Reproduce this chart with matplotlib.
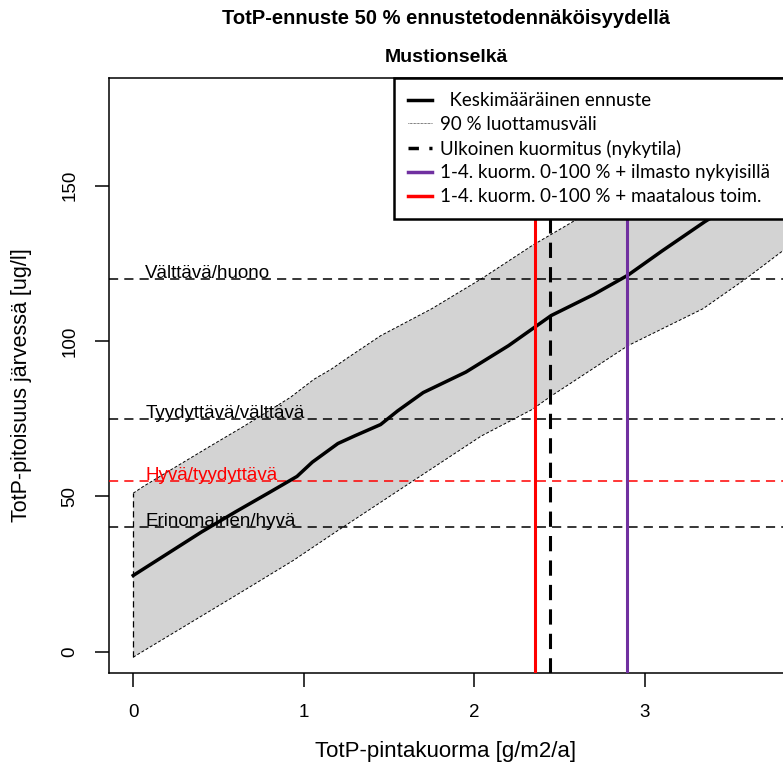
import matplotlib
matplotlib.use("Agg")
from matplotlib import pyplot as plt
from matplotlib.lines import Line2D

# mean forecast
mean_x = [0, 0.2, 0.4, 0.6, 0.8, 0.96, 1.05, 1.2, 1.3, 1.45, 1.55, 1.7, 1.95, 2.2,
          2.45, 2.7, 2.9, 3.1, 3.35, 3.6, 3.85]
mean_y = [24.5, 31.5, 38.5, 45, 51.3, 56.4, 61, 67, 69.5, 73.1, 77.5, 83.4, 90, 98.5,
          108.2, 115, 121.2, 129, 138.4, 147, 156]

# 90 % interval
upper_x = [0, 0.06, 0.25, 0.45, 0.65, 0.92, 1.06, 1.16, 1.26, 1.45, 1.75, 2.04, 2.34,
           2.53, 2.9, 3.35, 3.85]
upper_y = [51, 53.2, 59.5, 66.1, 72.6, 81.8, 87.7, 90.9, 94.7, 101.7, 110.4, 120, 130.8,
           136.9, 149, 163, 178]
lower_x = [0, 0.26, 0.65, 0.94, 1.2, 1.65, 2.04, 2.34, 2.45, 2.57, 2.9, 3.34, 3.59, 3.85]
lower_y = [-1.8, 6.8, 19.7, 29.4, 39, 55.3, 69.4, 78, 82.3, 86.6, 98.5, 110.4, 120, 130.8]

# class limits
limits = [40, 55, 75, 120]
limit_labels = ["Erinomainen/hyvä", "Hyvä/tyydyttävä", "Tyydyttävä/välttävä", "Välttävä/huono"]
limit_colors = ["black", "red", "black", "black"]

# scenario loads
load_now = 2.445
load_climate = 2.895
load_agri = 2.355

legend_labels = ["  Keskimääräinen ennuste", "90 % luottamusväli", "Ulkoinen kuormitus (nykytila)",
                 "1-4. kuorm. 0-100 % + ilmasto nykyisillä", "1-4. kuorm. 0-100 % + maatalous toim."]

plt.rcParams["font.family"] = ["Liberation Sans", "DejaVu Sans"]

fig = plt.figure(figsize=(7.83, 7.76), dpi=100)
ax = fig.add_axes([109 / 783, 1 - 673 / 776, 675 / 783, (673 - 78) / 776])

# band
poly_x = upper_x + lower_x[::-1]
poly_y = upper_y + lower_y[::-1]
ax.fill(poly_x, poly_y, color="#D3D3D3", lw=0, zorder=1)
ax.plot(upper_x, upper_y, color="black", lw=0.7, ls=(0, (3, 2)), zorder=2)
ax.plot(lower_x, lower_y, color="black", lw=0.7, ls=(0, (3, 2)), zorder=2)
ax.plot([0, 0], [lower_y[0], upper_y[0]], color="black", lw=0.9, ls=(0, (5, 3)), zorder=2)

# class limit lines and labels
for y, lab, c in zip(limits, limit_labels, limit_colors):
    ax.axhline(y, color=c, lw=1.1, ls=(0, (6, 4)), zorder=3)
    ax.text(0.07, y + 1.8, lab, color=c, fontsize=13.5, ha="left", va="center", zorder=4)

ax.plot(mean_x, mean_y, color="black", lw=2.5, zorder=5)

ax.axvline(load_agri, color="red", lw=2.2, zorder=6)
ax.axvline(load_now, color="black", lw=2.2, ls=(0, (5, 3)), zorder=6)
ax.axvline(load_climate, color="#7030A0", lw=2.2, zorder=6)

ax.set_xlim(-0.142, 3.815)
ax.set_ylim(-6.9, 184.7)
ax.set_xticks([0, 1, 2, 3])
ax.set_yticks([0, 50, 100, 150])
ax.tick_params(length=10, width=1.1, labelsize=13.5, pad=12)
plt.setp(ax.get_yticklabels(), rotation=90, va="center")
for s in ax.spines.values():
    s.set_linewidth(1.1)
ax.spines["right"].set_visible(False)

fig.text(446 / 783, 1 - 752 / 776, "TotP-pintakuorma [g/m2/a]", fontsize=16, ha="center", va="center")
fig.text(22 / 783, 1 - 385 / 776, "TotP-pitoisuus järvessä [ug/l]", fontsize=15.5, rotation=90,
         ha="center", va="center")
fig.text(446 / 783, 1 - 18 / 776, "TotP-ennuste 50 % ennustetodennäköisyydellä", fontsize=14.5,
         fontweight="bold", ha="center", va="center")
fig.text(446 / 783, 1 - 57 / 776, "Mustionselkä", fontsize=14, fontweight="bold", ha="center",
         va="center")

handles = [Line2D([], [], color="black", lw=2.5),
           Line2D([], [], color="black", lw=0.5, ls=(0, (1, 1))),
           Line2D([], [], color="black", lw=2.5, ls=(0, (3, 3))),
           Line2D([], [], color="#7030A0", lw=2.5),
           Line2D([], [], color="red", lw=2.5)]
leg = ax.legend(handles, legend_labels, loc="upper right", bbox_to_anchor=(1.0, 1.0),
                borderaxespad=0, fancybox=False, framealpha=1, edgecolor="black",
                prop={"family": "Lato", "size": 13.5}, handlelength=1.3, handletextpad=0.4,
                labelspacing=0.36, borderpad=0.75)
leg.get_frame().set_linewidth(1.8)
leg.set_zorder(10)

fig.savefig("out.png", dpi=100)
